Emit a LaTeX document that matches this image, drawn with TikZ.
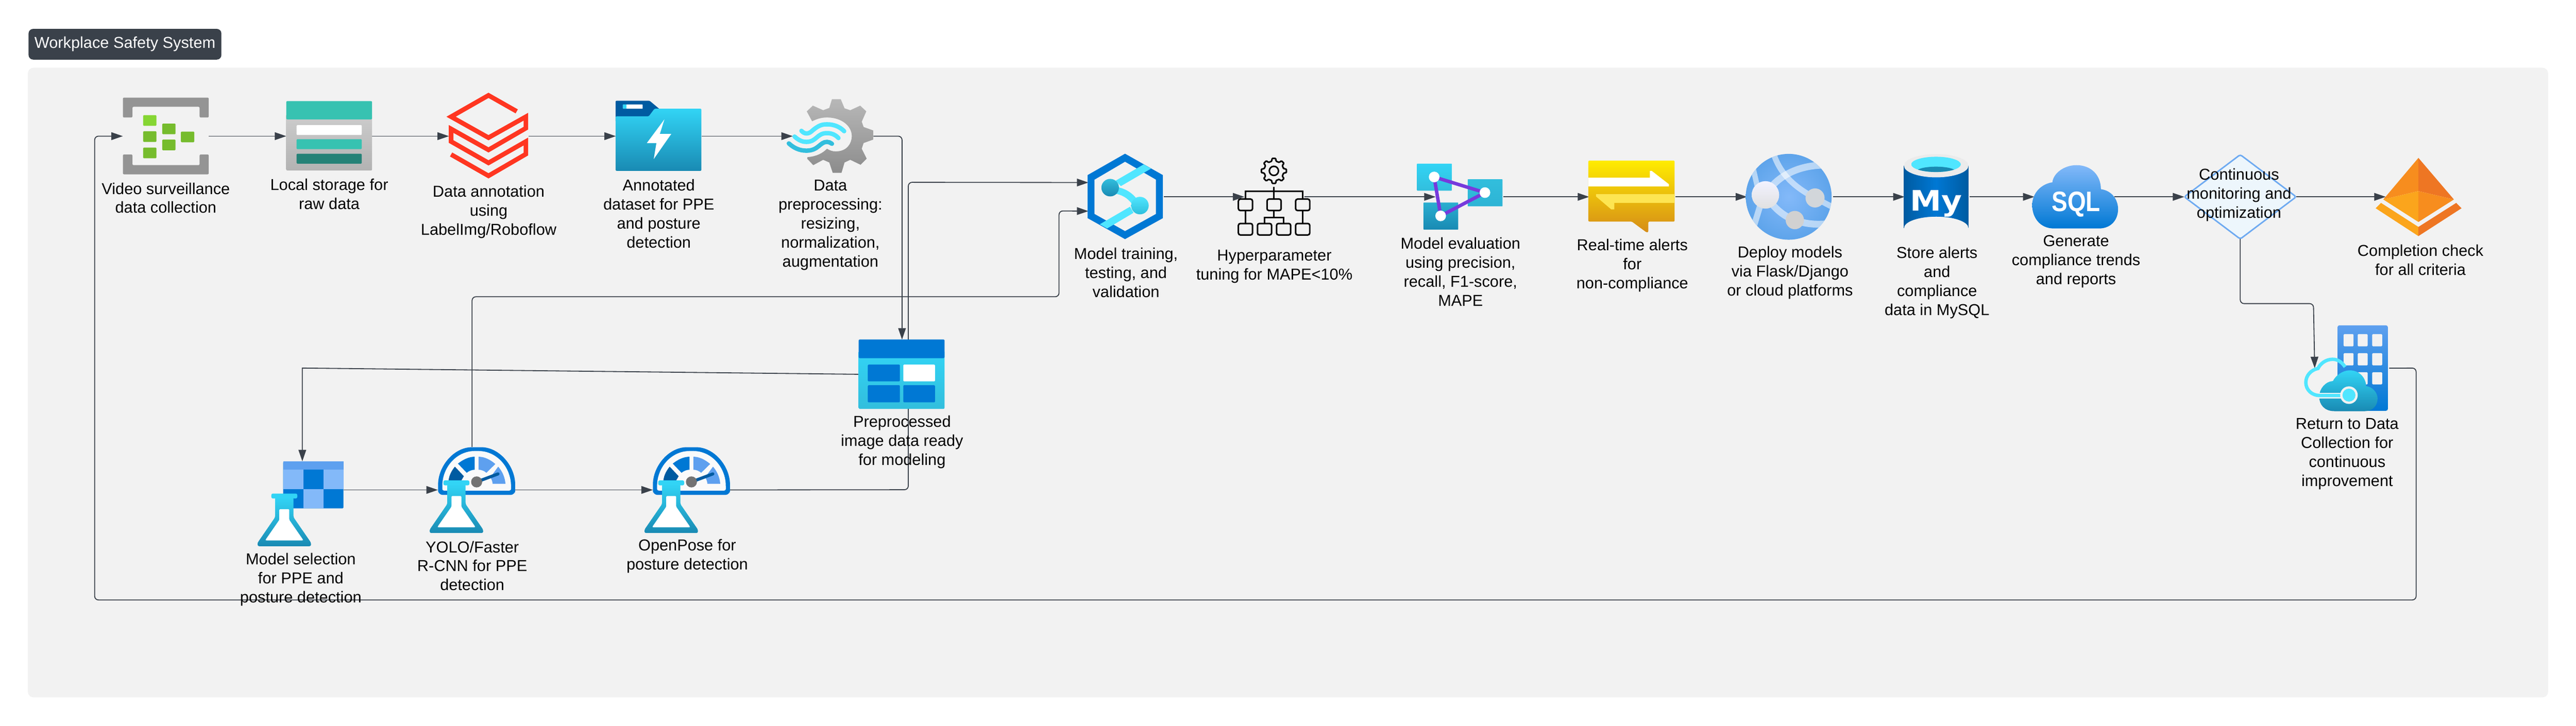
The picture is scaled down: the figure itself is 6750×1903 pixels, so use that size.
\documentclass[tikz,border=0pt]{standalone}
\usepackage{fontspec}
\setmainfont{Liberation Sans}
\newfontfamily\MarkFont{DejaVu Sans}
\usetikzlibrary{shapes.geometric, arrows.meta, positioning}
\definecolor{Slate}{HTML}{3A414A}
\definecolor{PanelGray}{HTML}{F2F2F2}
\definecolor{AzBlue}{HTML}{0078D4}
\definecolor{AzDark}{HTML}{005BA1}
\definecolor{AzLight}{HTML}{5EA0EF}
\definecolor{AzPale}{HTML}{83B9F9}
\definecolor{AzCyan}{HTML}{32D4F5}
\definecolor{AzAqua}{HTML}{50E6FF}
\definecolor{AzTeal}{HTML}{198AB3}
\definecolor{AzSky}{HTML}{32BEDD}
\definecolor{LeafGreen}{HTML}{76BC2D}
\definecolor{LeafLight}{HTML}{86D633}
\definecolor{StoreTeal}{HTML}{37C2B1}
\definecolor{StoreDark}{HTML}{258277}
\definecolor{LayerRed}{HTML}{FF3621}
\definecolor{EvalPurple}{HTML}{773ADC}
\definecolor{AmberA}{HTML}{FBA51C}
\definecolor{AmberB}{HTML}{F78D1E}
\definecolor{AmberC}{HTML}{EE7623}
\tikzstyle{Panel_Box} = [rectangle,
                         rounded corners=0.15cm,
                         minimum width=66cm,
                         minimum height=16.5cm,
                         fill=PanelGray]
\tikzstyle{Title_Box} = [rectangle,
                         rounded corners=0.12cm,
                         minimum width=5.05cm,
                         minimum height=0.805cm,
                         inner sep=0pt,
                         text=white,
                         fill=Slate,
                         font=\fontsize{11.8}{14.2}\selectfont]
\tikzstyle{Flow_Icon} = [rectangle,
                         minimum height=2cm,
                         inner sep=0pt,
                         outer sep=0pt]
\tikzstyle{Flow_Text} = [align=center,
                         inner sep=0pt,
                         font=\fontsize{11.8}{14.2}\selectfont]
\tikzstyle{Decision} = [diamond,
                        aspect=1.33,
                        rounded corners=0.05cm,
                        minimum width=2.93cm,
                        minimum height=2.21cm,
                        inner sep=0pt,
                        outer sep=0pt,
                        line width=1.1pt,
                        draw=AzLight!90!white,
                        fill=AzBlue!7!white]
\tikzstyle{Link} = [draw=Slate,
                    line width=0.7pt,
                    rounded corners=0.1cm,
                    -{Triangle[length=0.3cm,width=0.2cm]}]
\tikzstyle{Win_Cell} = [fill=PanelGray, rounded corners=0.02cm]

\newcommand{\FlaskIcon}[1]{
    \begin{scope}[shift={#1}]
        \shade [top color=AzCyan, bottom color=AzTeal, rounded corners=0.04cm]
            (-24,-128) -- (24,-128) -- (24,-76) -- (70,-9) -- (70,0) -- (-70,0) -- (-70,-9) -- (-24,-76) -- cycle;
        \fill [AzCyan, rounded corners=0.04cm] (-34,-138) rectangle (34,-125);
        \fill [white, rounded corners=0.02cm]
            (-13,-97) -- (13,-97) -- (13,-69) -- (49,-17) -- (49,-15) -- (-49,-15) -- (-49,-17) -- (-13,-69) -- cycle;
    \end{scope}
}
\newcommand{\GaugeIcon}[1]{
    \begin{scope}[shift={(#1)}]
        \fill [AzBlue, rounded corners=0.12cm]
            (-101,-2) .. controls (-101,-62) and (-60,-112) .. (0,-112) .. controls (60,-112) and (101,-62) .. (101,-2) -- (101,13) -- (-101,13) -- cycle;
        \fill [white!98!black, rounded corners=0.05cm]
            (-90,-5) .. controls (-90,-60) and (-52,-102) .. (0,-102) .. controls (52,-102) and (90,-60) .. (90,-5) -- (90,2) -- (-90,2) -- cycle;
        \fill [AzDark] (-73.5,-25) .. controls (-72,-38) and (-66,-50) .. (-57,-61) -- (-33.5,-36) -- (-40,-25) -- cycle;
        \fill [AzBlue] (-49,-69) .. controls (-35,-80) and (-20,-87) .. (-5,-87) -- (-5,-53) .. controls (-12,-53) and (-20,-50) .. (-26,-45) -- cycle;
        \fill [AzLight] (49,-68) .. controls (35,-80) and (20,-87) .. (5,-87) -- (5,-53) .. controls (12,-53) and (20,-50) .. (25.5,-45) -- cycle;
        \fill [AzLight] (56.5,-61) .. controls (66,-50) and (74,-35) .. (75.5,-16) -- (42,-16) .. controls (41,-25) and (38,-30) .. (36,-33) -- cycle;
        \draw [AzDark, line width=0.08cm, line cap=round] (0,-21) -- (56,-42);
        \fill [black!55] (0,-21) circle [radius=14.5];
        \FlaskIcon{(-53,113)}
    \end{scope}
}

\begin{document}
\begin{tikzpicture}[x=0.01cm, y=-0.01cm]
    \useasboundingbox (0,0) rectangle (6750,1903);
    \fill [white] (0,0) rectangle (6750,1903);

    \node (Panel) [Panel_Box] at (3375,1003) {};
    \node (Title) [Title_Box] at (327.5,116) {Workplace Safety System};

    \node (Cam) [Flow_Icon, minimum width=2.25cm] at (434.5,357) {};
    \node (Store) [Flow_Icon, minimum width=2.25cm, right of=Cam, xshift=3.28cm] {};
    \node (Layers) [Flow_Icon, minimum width=2.08cm, right of=Store, xshift=3.175cm] {};
    \node (Folder) [Flow_Icon, minimum width=2.25cm, right of=Layers, xshift=3.455cm] {};
    \node (Gear) [Flow_Icon, minimum width=2.11cm, right of=Folder, xshift=3.565cm] {};
    \node (Train) [Flow_Icon, minimum width=1.97cm, right of=Gear, xshift=6.67cm, yshift=-1.59cm] {};
    \node (Hyper) [Flow_Icon, minimum width=1.57cm, right of=Train, xshift=2.885cm] {};
    \node (Eval) [Flow_Icon, minimum width=1.77cm, right of=Hyper, xshift=4.11cm] {};
    \node (Alert) [Flow_Icon, minimum width=2.26cm, right of=Eval, xshift=3.265cm] {};
    \node (Globe) [Flow_Icon, minimum width=2.25cm, right of=Alert, xshift=3.13cm] {};
    \node (Mysql) [Flow_Icon, minimum width=1.70cm, right of=Globe, xshift=2.85cm] {};
    \node (Cloud) [Flow_Icon, minimum width=2.10cm, right of=Mysql, xshift=2.6cm] {};
    \node (Check) [Decision, right of=Cloud, xshift=3.34cm] {};
    \node (Done) [Flow_Icon, minimum width=1.82cm, right of=Check, xshift=3.72cm] {};
    \node (Return) [Flow_Icon, minimum width=1.95cm, below of=Check, xshift=2.925cm, yshift=-3.49cm] {};

    \node (Clean) [Flow_Icon, minimum width=2.25cm, minimum height=1.82cm, below of=Gear, xshift=1.805cm, yshift=-5.24cm] {};
    \node (Pose) [Flow_Icon, minimum width=2.02cm, left of=Clean, xshift=-4.515cm, yshift=-3.03cm] {};
    \node (Yolo) [Flow_Icon, minimum width=2.03cm, left of=Pose, xshift=-4.625cm] {};
    \node (Select) [Flow_Icon, minimum width=2.16cm, minimum height=1.5cm, left of=Yolo, xshift=-3.565cm] {};

    \coordinate (Select_Turn) at (792,965);
    \coordinate (Yolo_Out) at (1237,1172);

    % connectors
    \draw [Link] (Cam.east) -- (Store.west);
    \draw [Link] (Store.east) -- (Layers.west);
    \draw [Link] (Layers.east) -- (Folder.west);
    \draw [Link] (Folder.east) -- (Gear.west);
    \draw [Link] (Gear.east) -| (Clean.north);
    \draw [Link, rounded corners=0pt] (Clean.west) -- (Select_Turn) -- (Select.north);
    \draw [Link] (Select.east) -- (Yolo.west);
    \draw [Link] (Yolo.east) -- (Pose.west);
    \draw [Link] (Pose.east) -- (2380,1284) -- (2380,478) -- ([yshift=0.375cm]Train.west);
    \draw [Link] (Yolo_Out) -- (1237,778) -- (2775,778) -- (2775,553) -- ([yshift=-0.375cm]Train.west);
    \draw [Link] (Train.east) -- (Hyper.west);
    \draw [Link] (Hyper.east) -- (Eval.west);
    \draw [Link] (Eval.east) -- (Alert.west);
    \draw [Link] (Alert.east) -- (Globe.west);
    \draw [Link] (Globe.east) -- (Mysql.west);
    \draw [Link] (Mysql.east) -- (Cloud.west);
    \draw [Link] (Cloud.east) -- (Check.west);
    \draw [Link] (Check.east) -- (Done.west);
    \draw [Link] (Check.south) |- (6062,796) -- (Return.west);
    \draw [Link] (Return.east) -- (6331,965) -- (6331,1573) -- (248,1573) -- (248,357) -- (Cam.west);

    % camera
    \fill [black!42, rounded corners=0.03cm] (322,308) -- (322,256) -- (547,256) -- (547,308) -- (523,308) -- (523,280) -- (347,280) -- (347,308) -- cycle;
    \fill [black!42, rounded corners=0.03cm] (322,405) -- (322,457) -- (547,457) -- (547,405) -- (523,405) -- (523,433) -- (347,433) -- (347,405) -- cycle;
    \fill [LeafLight, rounded corners=0.02cm] (375,302) rectangle (410,330);
    \foreach \gx/\gy in {375/344, 375/387, 425/324, 425/366, 474/345}
        \fill [LeafGreen, rounded corners=0.02cm] (\gx,\gy) rectangle ++(35,28);

    % local storage
    \shade [top color=black!20, bottom color=black!30, rounded corners=0.03cm] (750,300) rectangle (975,447);
    \fill [StoreTeal, rounded corners=0.03cm] (750,313) -- (750,265) -- (975,265) -- (975,313) -- cycle;
    \fill [white, rounded corners=0.02cm] (777,328) rectangle (948,354);
    \fill [StoreTeal, rounded corners=0.02cm] (777,365) rectangle (948,391);
    \fill [StoreDark, rounded corners=0.02cm] (777,403) rectangle (948,429);

    % annotation layers
    \draw [LayerRed, line width=0.12cm] (1354,292) -- (1280,250) -- (1182,306) -- (1280,361) -- (1378,306) -- (1378,336) -- (1280,393) -- (1182,338) -- (1182,371) -- (1280,427) -- (1378,371) -- (1378,404) -- (1280,461) -- (1182,405);

    % annotated dataset folder
    \fill [AzDark, rounded corners=0.03cm] (1613,320) -- (1613,264) -- (1702,264) -- (1733,290) -- (1733,320) -- cycle;
    \shade [top color=AzCyan, bottom color=AzTeal, rounded corners=0.03cm] (1613,448) -- (1613,305) -- (1700,305) -- (1715,285) -- (1838,285) -- (1838,448) -- cycle;
    \fill [white, rounded corners=0.01cm] (1632,274) rectangle (1684,285);
    \fill [AzCyan] (1632,274) rectangle (1642,285);
    \fill [white] (1741,313) -- (1695,375) -- (1720,375) -- (1713,417) -- (1759,351) -- (1729,351) -- cycle;

    % preprocessing gear
    \shade [top color=black!28, bottom color=black!45]
        (2180,260) -- (2203,260) -- (2213,284) -- (2228,289) -- (2254,277) -- (2270,292) -- (2258,319) -- (2263,333) -- (2288,342) -- (2288,366) -- (2263,375) -- (2258,390) -- (2271,416) -- (2255,432) -- (2228,419) -- (2213,426) -- (2205,453) -- (2182,453) -- (2173,426) -- (2157,419) -- (2131,433) -- (2115,416) -- (2116,412)
        .. controls (2140,410) and (2155,402) .. (2167,390) .. controls (2175,395) and (2182,397) .. (2190,397)
        .. controls (2220,397) and (2232,375) .. (2232,357) .. controls (2232,330) and (2205,308) .. (2167,308)
        .. controls (2150,308) and (2138,313) .. (2128,318) -- (2114,292) -- (2130,277) -- (2157,289) -- (2173,283) -- cycle;
    \draw [AzAqua, line width=0.115cm, line cap=round] (2100,343) .. controls (2108,352) and (2118,352) .. (2127,344) .. controls (2145,328) and (2155,326) .. (2167,326) .. controls (2185,326) and (2200,332) .. (2212,344);
    \draw [AzAqua, line width=0.115cm, line cap=round] (2082,358) .. controls (2095,370) and (2105,372) .. (2113,372) .. controls (2140,372) and (2140,349) .. (2167,349) .. controls (2180,349) and (2190,354) .. (2197,362);
    \draw [AzSky, line width=0.115cm, line cap=round] (2067,376) .. controls (2080,388) and (2095,395) .. (2113,395) .. controls (2145,395) and (2148,372) .. (2167,372) .. controls (2172,372) and (2176,374) .. (2180,377);

    % preprocessed data table
    \shade [top color=AzCyan, bottom color=AzSky, rounded corners=0.03cm] (2250,920) rectangle (2475,1072);
    \fill [AzBlue, rounded corners=0.03cm] (2250,939) -- (2250,890) -- (2475,890) -- (2475,939) -- cycle;
    \fill [AzBlue, rounded corners=0.02cm] (2274,956) rectangle (2358,1000);
    \fill [white, rounded corners=0.02cm] (2367,956) rectangle (2450,1000);
    \fill [AzBlue, rounded corners=0.02cm] (2274,1010) rectangle (2358,1055);
    \fill [AzBlue, rounded corners=0.02cm] (2367,1010) rectangle (2450,1055);

    % model selection
    \fill [AzBlue, rounded corners=0.03cm] (742,1210) rectangle (900,1333);
    \fill [AzLight] (742,1210) rectangle (900,1231);
    \fill [AzPale] (742,1231) rectangle (795,1282);
    \fill [AzPale] (848,1231) rectangle (900,1282);
    \fill [AzPale] (795,1282) rectangle (848,1333);
    \FlaskIcon{(745,1432)}

    \GaugeIcon{Yolo.center}
    \GaugeIcon{Pose.center}

    % model training
    \fill [AzBlue, even odd rule] (2948,403) -- (3047,459) -- (3047,572) -- (2948,627) -- (2850,572) -- (2850,459) -- cycle
        (2948,424) -- (3029,471) -- (3029,561) -- (2948,606) -- (2868,561) -- (2868,471) -- cycle;
    \fill [AzAqua] (2997,431) -- (3016,442) -- (2937,488) -- (2923,474) -- cycle;
    \fill [AzAqua] (2882,588) -- (2901,599) -- (2970,558) -- (2961,542) -- cycle;
    \draw [AzAqua, line width=0.18cm] (2915,498) .. controls (2945,500) and (2965,515) .. (2977,535);
    \shade [top color=AzSky, bottom color=AzTeal] (2909,492) circle [radius=23];
    \shade [top color=AzAqua, bottom color=AzCyan!90!black] (2987,539) circle [radius=23];

    % hyperparameter tree
    \begin{scope}[black, line width=0.04cm]
        \draw [shift={(3338,448)}, rounded corners=0.015cm] (-13:26) \foreach \a in {0,45,...,315} { -- (\a-13:26) -- (\a-8:33) -- (\a+8:33) -- (\a+13:26) } -- cycle;
        \draw (3338,448) circle [radius=12];
        \draw (3338,490) -- (3338,522);
        \draw (3263,522) -- (3263,502) -- (3413,502) -- (3413,522);
        \foreach \hx in {3245,3320,3395}
            \draw [rounded corners=0.05cm] (\hx,522) rectangle ++(37,30);
        \foreach \hx in {3245,3295,3345,3395}
            \draw [rounded corners=0.05cm] (\hx,586) rectangle ++(37,30);
        \draw (3263,552) -- (3263,586);
        \draw (3413,552) -- (3413,586);
        \draw (3338,552) -- (3338,571);
        \draw (3313,586) -- (3313,571) -- (3363,571) -- (3363,586);
    \end{scope}

    % evaluation triangle
    \shade [top color=AzCyan, bottom color=AzSky, rounded corners=0.01cm] (3713,429) rectangle (3804,500);
    \shade [top color=AzSky, bottom color=AzSky!80!AzTeal, rounded corners=0.01cm] (3846,470) rectangle (3937,541);
    \shade [top color=AzSky!70!AzTeal, bottom color=AzTeal, rounded corners=0.01cm] (3730,531) rectangle (3821,602);
    \draw [EvalPurple, line width=0.09cm] (3758,464) -- (3891,505) -- (3775,566) -- cycle;
    \fill [white] (3758,464) circle [radius=14];
    \fill [white] (3891,505) circle [radius=14];
    \fill [white] (3775,566) circle [radius=14];

    % alerts bubble
    \shade [top color=yellow!85!orange, bottom color=AmberA!85!black, rounded corners=0.03cm]
        (4162,421) -- (4388,421) -- (4388,581) -- (4319,581) -- (4319,609) -- (4314,609) -- (4276,581) -- (4162,581) -- cycle;
    \fill [white] (4162,466) -- (4323,466) -- (4323,448) -- (4328,448) -- (4373,483) -- (4373,489) -- (4162,489) -- cycle;
    \fill [yellow!70!AmberA!70!white] (4388,509) -- (4182,509) -- (4182,515) -- (4222,549) -- (4230,549) -- (4230,532) -- (4388,532) -- cycle;

    % deployment globe
    \begin{scope}
        \clip (4687,516) circle [radius=112.5];
        \shade [inner color=AzPale, outer color=AzLight!70!AzBlue!85!white] (4687,516) circle [radius=113];
        \begin{scope}[white, opacity=0.55]
            \draw [line width=0.15cm] (4648,405) .. controls (4665,455) and (4700,490) .. (4756,519) -- (4800,542);
            \draw [line width=0.18cm] (4626,511) .. controls (4650,470) and (4700,435) .. (4775,433);
            \draw [line width=0.18cm] (4626,511) .. controls (4650,550) and (4680,570) .. (4703,577) .. controls (4725,585) and (4750,590) .. (4785,587);
            \draw [line width=0.14cm] (4593,438) -- (4605,490) -- (4626,511);
            \draw [line width=0.16cm] (4612,540) -- (4596,592);
        \end{scope}
    \end{scope}
    \shade [top color=blue!5!white, bottom color=black!12] (4626,511) circle [radius=36];
    \fill [AzLight!30!black!20!white] (4756,519) circle [radius=25];
    \fill [black!18] (4703,577) circle [radius=24];

    % mysql cylinder
    \shade [left color=AzDark, right color=AzDark, middle color=AzBlue]
        (4989,434) -- (4989,598) arc [start angle=180, end angle=360, x radius=84.5, y radius=30] -- (5158,434) -- cycle;
    \fill [black!8] (5073.5,434.5) ellipse [x radius=84.5, y radius=30.5];
    \begin{scope}
        \clip (5073,431) ellipse [x radius=65, y radius=20];
        \fill [AzAqua] (5008,411) rectangle (5138,451);
        \fill [AzTeal] (5073,450) ellipse [x radius=52, y radius=13];
    \end{scope}
    \node (Mysql_Mark) [inner sep=0pt, text=white, font=\MarkFont\fontsize{21}{21}\selectfont\bfseries] at (5073,534) {\scalebox{1.12}[1]{My}};

    % sql cloud
    \shade [top color=AzPale, bottom color=AzBlue]
        (5382,599) .. controls (5345,599) and (5325,570) .. (5325,538) .. controls (5325,505) and (5350,482) .. (5378,478)
        .. controls (5380,455) and (5408,433) .. (5441,433) .. controls (5480,433) and (5505,460) .. (5505,496)
        .. controls (5535,500) and (5550,525) .. (5550,548) .. controls (5550,578) and (5530,599) .. (5500,599) -- cycle;
    \node (Cloud_Mark) [inner sep=0pt, text=white, font=\fontsize{21}{21}\selectfont\bfseries] at (5440,535) {\scalebox{.84}[1]{SQL}};

    % completion mark
    \fill [AmberB] (6337,414) -- (6337,501) -- (6245,523) -- cycle;
    \fill [AmberC] (6337,414) -- (6337,501) -- (6430,523) -- cycle;
    \fill [AmberA] (6337,501) -- (6337,582) -- (6245,523) -- cycle;
    \fill [AmberB] (6337,501) -- (6337,582) -- (6430,523) -- cycle;
    \fill [AmberA] (6225,546) -- (6239,532) -- (6337,595) -- (6337,619) -- cycle;
    \fill [AmberC] (6450,546) -- (6436,532) -- (6337,595) -- (6337,619) -- cycle;

    % return building and cloud
    \shade [top color=AzLight, bottom color=AzBlue, rounded corners=0.05cm] (6125,853) rectangle (6257,1077);
    \foreach \wx in {6141,6178,6216}
        \foreach \wy in {876,926,976}
            \fill [Win_Cell] (\wx,\wy) rectangle ++(26,32);
    \shade [top color=AzCyan, bottom color=AzTeal]
        (6117,1078) .. controls (6090,1078) and (6077,1060) .. (6077,1040) .. controls (6077,1020) and (6093,1000) .. (6113,999)
        .. controls (6120,985) and (6138,971) .. (6157,971) .. controls (6182,971) and (6199,990) .. (6200,1012)
        .. controls (6218,1015) and (6230,1030) .. (6230,1045) .. controls (6230,1065) and (6215,1078) .. (6197,1078) -- cycle;
    \draw [PanelGray, line width=0.15cm] (6075,1037) -- (6140,1037);
    \draw [AzAqua, line width=0.09cm] (6145,962) .. controls (6135,948) and (6125,942) .. (6112,942) .. controls (6095,942) and (6080,953) .. (6074,966)
        .. controls (6055,970) and (6042,985) .. (6042,1003) .. controls (6042,1022) and (6058,1037) .. (6078,1037) -- (6140,1037);
    \fill [PanelGray] (6155,1036) circle [radius=23];
    \fill [AzAqua] (6155,1036) circle [radius=17];

    % labels
    \node (Cam_Text) [Flow_Text, below of=Cam, yshift=-0.62cm] {Video surveillance\\data collection};
    \node (Store_Text) [Flow_Text, below of=Store, yshift=-0.52cm] {Local storage for\\raw data};
    \node (Layers_Text) [Flow_Text, below of=Layers, yshift=-0.985cm] {Data annotation\\using\\LabelImg/Roboflow};
    \node (Folder_Text) [Flow_Text, below of=Folder, yshift=-1.035cm] {Annotated\\dataset for PPE\\and posture\\detection};
    \node (Gear_Text) [Flow_Text, below of=Gear, xshift=-0.07cm, yshift=-1.325cm] {Data\\preprocessing:\\resizing,\\normalization,\\augmentation};
    \node (Train_Text) [Flow_Text, below of=Train, yshift=-0.98cm] {Model training,\\testing, and\\validation};
    \node (Hyper_Text) [Flow_Text, below of=Hyper, yshift=-0.83cm] {Hyperparameter\\tuning for MAPE<10\%};
    \node (Eval_Text) [Flow_Text, below of=Eval, xshift=-0.235cm, yshift=-0.97cm] {Model evaluation\\using precision,\\recall, F1-score,\\MAPE};
    \node (Alert_Text) [Flow_Text, below of=Alert, yshift=-0.80cm] {Real-time alerts\\for\\non-compliance};
    \node (Globe_Text) [Flow_Text, below of=Globe, yshift=-0.99cm] {Deploy models\\via Flask/Django\\or cloud platforms};
    \node (Mysql_Text) [Flow_Text, below of=Mysql, yshift=-1.25cm] {Store alerts\\and\\compliance\\data in MySQL};
    \node (Cloud_Text) [Flow_Text, below of=Cloud, xshift=0.04cm, yshift=-0.70cm] {Generate\\compliance trends\\and reports};
    \node (Check_Text) [Flow_Text] at (5867,511) {Continuous\\monitoring and\\optimization};
    \node (Done_Text) [Flow_Text, below of=Done, yshift=-0.65cm] {Completion check\\for all criteria};
    \node (Return_Text) [Flow_Text, below of=Return, xshift=-0.125cm, yshift=-1.25cm] {Return to Data\\Collection for\\continuous\\improvement};
    \node (Clean_Text) [Flow_Text, below of=Clean, yshift=-0.78cm] {Preprocessed\\image data ready\\for modeling};
    \node (Select_Text) [Flow_Text, below of=Select, xshift=-0.04cm, yshift=-1.35cm] {Model selection\\for PPE and\\posture detection};
    \node (Yolo_Text) [Flow_Text, below of=Yolo, xshift=-0.115cm, yshift=-0.99cm] {YOLO/Faster\\R-CNN for PPE\\detection};
    \node (Pose_Text) [Flow_Text, below of=Pose, xshift=-0.11cm, yshift=-0.74cm] {OpenPose for\\posture detection};
\end{tikzpicture}
\end{document}
